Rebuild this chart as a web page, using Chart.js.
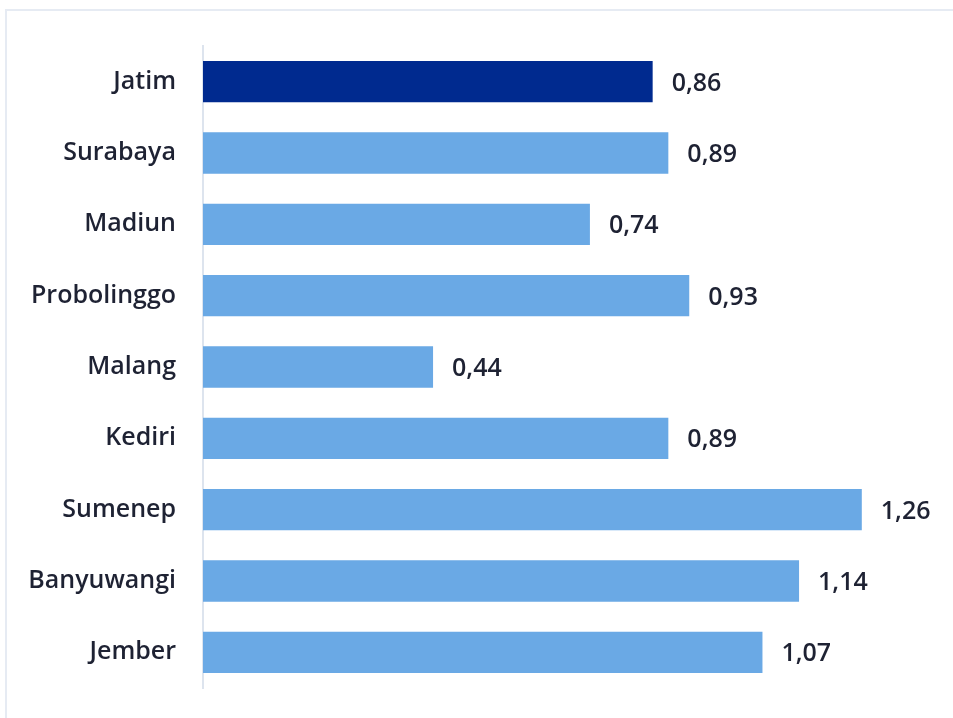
<!DOCTYPE html>
<html lang="id">
<head>
  <meta charset="UTF-8" />
  <title>Indeks per Kota</title>
  <script src="https://cdn.jsdelivr.net/npm/chart.js"></script>
  <style>
    * { box-sizing: border-box; margin: 0; padding: 0; }
    body { background: #fff; width: 953px; height: 718px; overflow: hidden; position: relative; }
    .frame {
      position: absolute; left: 5px; top: 9px; width: 1000px; height: 800px;
      border: 2px solid #e6ebf3;
    }
    .wrap { position: absolute; left: 0; top: 0; width: 953px; height: 718px; }
  </style>
</head>
<body>
  <div class="frame"></div>
  <div class="wrap"><canvas id="barChart"></canvas></div>

  <script>
    const kota = ['Jatim', 'Surabaya', 'Madiun', 'Probolinggo', 'Malang', 'Kediri', 'Sumenep', 'Banyuwangi', 'Jember'];
    const nilai = [0.86, 0.89, 0.74, 0.93, 0.44, 0.89, 1.26, 1.14, 1.07];
    const warna = ['#002a8f', '#6aa9e5', '#6aa9e5', '#6aa9e5', '#6aa9e5', '#6aa9e5', '#6aa9e5', '#6aa9e5', '#6aa9e5'];

    const fontFamily = "'Open Sans', sans-serif";

    // angka di ujung batang, pakai koma desimal
    const labelNilai = {
      id: 'labelNilai',
      afterDatasetsDraw(chart) {
        const ctx = chart.ctx;
        const meta = chart.getDatasetMeta(0);
        ctx.save();
        ctx.font = '600 25px ' + fontFamily;
        ctx.fillStyle = '#1e2233';
        ctx.textAlign = 'left';
        ctx.textBaseline = 'middle';
        meta.data.forEach((bar, i) => {
          ctx.fillText(nilai[i].toFixed(2).replace('.', ','), bar.x + 19, bar.y + 2);
        });
        ctx.restore();
      }
    };

    new Chart(document.getElementById('barChart'), {
      type: 'bar',
      data: {
        labels: kota,
        datasets: [{
          data: nilai,
          backgroundColor: warna,
          categoryPercentage: 1,
          barPercentage: 0.58
        }]
      },
      options: {
        indexAxis: 'y',
        responsive: true,
        maintainAspectRatio: false,
        animation: false,
        layout: { padding: { top: 46, bottom: 30, left: 0, right: 18 } },
        plugins: {
          legend: { display: false },
          tooltip: { enabled: false }
        },
        scales: {
          x: {
            display: false,
            min: 0,
            max: 1.4
          },
          y: {
            afterFit(scale) {
              scale.width = 203;
              scale.paddingTop = 0;
              scale.paddingBottom = 0;
            },
            grid: { display: false, drawTicks: false },
            border: { display: true, color: '#dde4ee', width: 2 },
            ticks: {
              padding: 27,
              color: '#1e2233',
              font: { family: fontFamily, size: 25, weight: '600' }
            }
          }
        }
      },
      plugins: [labelNilai]
    });
  </script>
</body>
</html>
